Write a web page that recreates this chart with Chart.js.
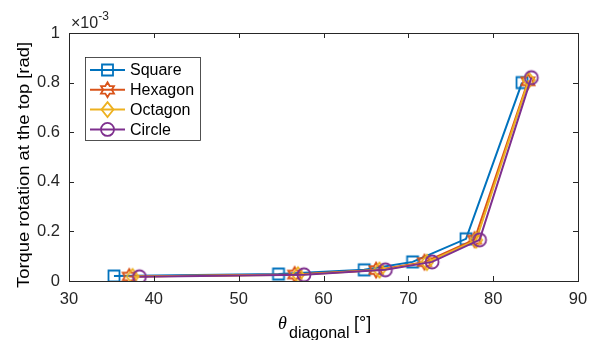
<!DOCTYPE html>
<html>
<head>
<meta charset="utf-8">
<script src="https://cdn.jsdelivr.net/npm/chart.js@4.4.1/dist/chart.umd.min.js"></script>
<style>
  html, body { margin: 0; padding: 0; background: #fff; }
  #wrap { width: 602px; height: 340px; }
</style>
</head>
<body>
<div id="wrap"><canvas id="chart" width="602" height="340"></canvas></div>
<script>
// values (y in units of 1e-3 rad)
const seriesNames = ['Square', 'Hexagon', 'Octagon', 'Circle'];
const squareX = [35.3, 54.7, 64.8, 70.5, 76.8, 83.4];
const squareY = [0.020, 0.028, 0.045, 0.077, 0.170, 0.800];
const hexagonX = [37.1, 56.6, 66.2, 71.9, 77.8, 84.1];
const hexagonY = [0.018, 0.026, 0.044, 0.076, 0.167, 0.805];
const octagonX = [37.5, 57.0, 66.6, 72.2, 78.0, 84.2];
const octagonY = [0.018, 0.025, 0.044, 0.075, 0.165, 0.810];
const circleX = [38.3, 57.7, 67.3, 72.8, 78.4, 84.5];
const circleY = [0.017, 0.025, 0.045, 0.077, 0.166, 0.820];
const xTicks = [30, 40, 50, 60, 70, 80, 90];
const yTicks = [0, 0.2, 0.4, 0.6, 0.8, 1];

const colors = ['#0072BD', '#D95319', '#EDB120', '#7E2F8E'];
const shapes = ['square', 'hexagram', 'diamond', 'circle'];
const axisColor = '#262626';

function drawMarker(ctx, shape, x, y, color) {
  ctx.save();
  ctx.strokeStyle = color;
  ctx.lineWidth = 1.8;
  ctx.beginPath();
  if (shape === 'square') {
    ctx.rect(x - 5.5, y - 5.5, 11, 11);
  } else if (shape === 'circle') {
    ctx.arc(x, y, 6.5, 0, Math.PI * 2);
  } else if (shape === 'diamond') {
    ctx.moveTo(x, y - 7.5);
    ctx.lineTo(x + 6, y);
    ctx.lineTo(x, y + 7.5);
    ctx.lineTo(x - 6, y);
    ctx.closePath();
  } else if (shape === 'hexagram') {
    const R = 7.5, r = R / Math.sqrt(3);
    for (let i = 0; i < 12; i++) {
      const a = -Math.PI / 2 + i * Math.PI / 6;
      const rad = i % 2 === 0 ? R : r;
      const px = x + rad * Math.cos(a), py = y + rad * Math.sin(a);
      if (i === 0) ctx.moveTo(px, py); else ctx.lineTo(px, py);
    }
    ctx.closePath();
  }
  ctx.stroke();
  ctx.restore();
}

function markerImage(shape, color) {
  const c = document.createElement('canvas');
  c.width = 20; c.height = 20;
  drawMarker(c.getContext('2d'), shape, 10, 10, color);
  return c;
}

function toPoints(xs, ys) {
  return xs.map((x, i) => ({ x: x, y: ys[i] }));
}

const allX = [squareX, hexagonX, octagonX, circleX];
const allY = [squareY, hexagonY, octagonY, circleY];

const datasets = seriesNames.map((name, i) => ({
  label: name,
  data: toPoints(allX[i], allY[i]),
  showLine: true,
  borderColor: colors[i],
  borderWidth: 2,
  backgroundColor: 'transparent',
  pointStyle: markerImage(shapes[i], colors[i]),
  pointRadius: 7,
  pointHoverRadius: 7,
  order: seriesNames.length - i,
  tension: 0
}));

// box, inward ticks, legend and the axis titles, matlab style
const matlabAxes = {
  id: 'matlabAxes',
  afterDatasetsDraw(chart) {
    const { ctx, chartArea: a, scales } = chart;
    ctx.save();
    ctx.strokeStyle = axisColor;
    ctx.lineWidth = 1;
    ctx.strokeRect(Math.round(a.left) + 0.5, Math.round(a.top) + 0.5,
      Math.round(a.right - a.left), Math.round(a.bottom - a.top));
    ctx.beginPath();
    xTicks.forEach(v => {
      const px = Math.round(scales.x.getPixelForValue(v)) + 0.5;
      ctx.moveTo(px, a.bottom); ctx.lineTo(px, a.bottom - 5);
      ctx.moveTo(px, a.top); ctx.lineTo(px, a.top + 5);
    });
    yTicks.forEach(v => {
      const py = Math.round(scales.y.getPixelForValue(v)) + 0.5;
      ctx.moveTo(a.left, py); ctx.lineTo(a.left + 5, py);
      ctx.moveTo(a.right, py); ctx.lineTo(a.right - 5, py);
    });
    ctx.stroke();
    ctx.restore();
  },
  afterDraw(chart) {
    const { ctx } = chart;
    ctx.save();

    // legend
    const lx = 85, ly = 57, lw = 115, lh = 83;
    ctx.fillStyle = '#fff';
    ctx.fillRect(lx, ly, lw, lh);
    ctx.strokeStyle = axisColor;
    ctx.lineWidth = 0.8;
    ctx.strokeRect(lx + 0.5, ly + 0.5, lw, lh);
    chart.data.datasets.forEach((ds, i) => {
      const y = 70 + i * 19.8;
      ctx.strokeStyle = ds.borderColor;
      ctx.lineWidth = 2;
      ctx.beginPath();
      ctx.moveTo(90, y); ctx.lineTo(125, y);
      ctx.stroke();
      drawMarker(ctx, shapes[i], 107.5, y, ds.borderColor);
      ctx.fillStyle = '#000';
      ctx.font = '16px "Liberation Sans", Arial, sans-serif';
      ctx.textBaseline = 'middle';
      ctx.textAlign = 'left';
      ctx.fillText(ds.label, 130, y + 1);
    });

    ctx.fillStyle = axisColor;
    // exponent above the y axis
    ctx.textBaseline = 'alphabetic';
    ctx.textAlign = 'left';
    ctx.font = '16px "Liberation Sans", Arial, sans-serif';
    ctx.fillText('\u00d710', 71, 28);
    const w = ctx.measureText('\u00d710').width;
    ctx.font = '12px "Liberation Sans", Arial, sans-serif';
    ctx.fillText('-3', 71 + w, 20);

    // y title
    ctx.save();
    ctx.translate(25, 165);
    ctx.rotate(-Math.PI / 2);
    ctx.scale(1.02, 0.9);
    ctx.font = '18px "Liberation Sans", Arial, sans-serif';
    ctx.textAlign = 'center';
    ctx.textBaseline = 'middle';
    ctx.fillStyle = '#000';
    ctx.fillText('Torque rotation at the top [rad]', 0, 0);
    ctx.restore();

    // x title: theta with subscript
    ctx.fillStyle = '#000';
    ctx.textAlign = 'left';
    ctx.textBaseline = 'alphabetic';
    ctx.font = 'italic 18px "Liberation Serif", "Times New Roman", serif';
    ctx.fillText('\u03b8', 278, 329);
    ctx.font = '16px "Liberation Sans", Arial, sans-serif';
    ctx.fillText('diagonal', 289, 338);
    ctx.font = '18px "Liberation Sans", Arial, sans-serif';
    ctx.fillText('[\u00b0]', 354, 329);

    ctx.restore();
  }
};

new Chart(document.getElementById('chart'), {
  type: 'scatter',
  data: { datasets: datasets },
  plugins: [matlabAxes],
  options: {
    responsive: false,
    animation: false,
    devicePixelRatio: 1,
    layout: { padding: { top: 33, right: 24, left: 0, bottom: 0 } },
    plugins: { legend: { display: false }, tooltip: { enabled: false } },
    scales: {
      x: {
        type: 'linear',
        min: 30, max: 90,
        afterBuildTicks: s => { s.ticks = xTicks.map(v => ({ value: v })); },
        afterFit: s => { s.height = 59; },
        grid: { display: false, drawTicks: false, tickLength: 0 },
        border: { display: false },
        ticks: {
          color: axisColor,
          padding: 9,
          font: { family: '"Liberation Sans", Arial, sans-serif', size: 16.5 },
          maxRotation: 0,
          callback: v => String(v)
        }
      },
      y: {
        type: 'linear',
        min: 0, max: 1,
        afterBuildTicks: s => { s.ticks = yTicks.map(v => ({ value: v })); },
        afterFit: s => { s.width = 69; },
        grid: { display: false, drawTicks: false, tickLength: 0 },
        border: { display: false },
        ticks: {
          color: axisColor,
          padding: 9,
          font: { family: '"Liberation Sans", Arial, sans-serif', size: 16.5 },
          callback: v => String(+v.toFixed(1))
        }
      }
    }
  }
});
</script>
</body>
</html>
